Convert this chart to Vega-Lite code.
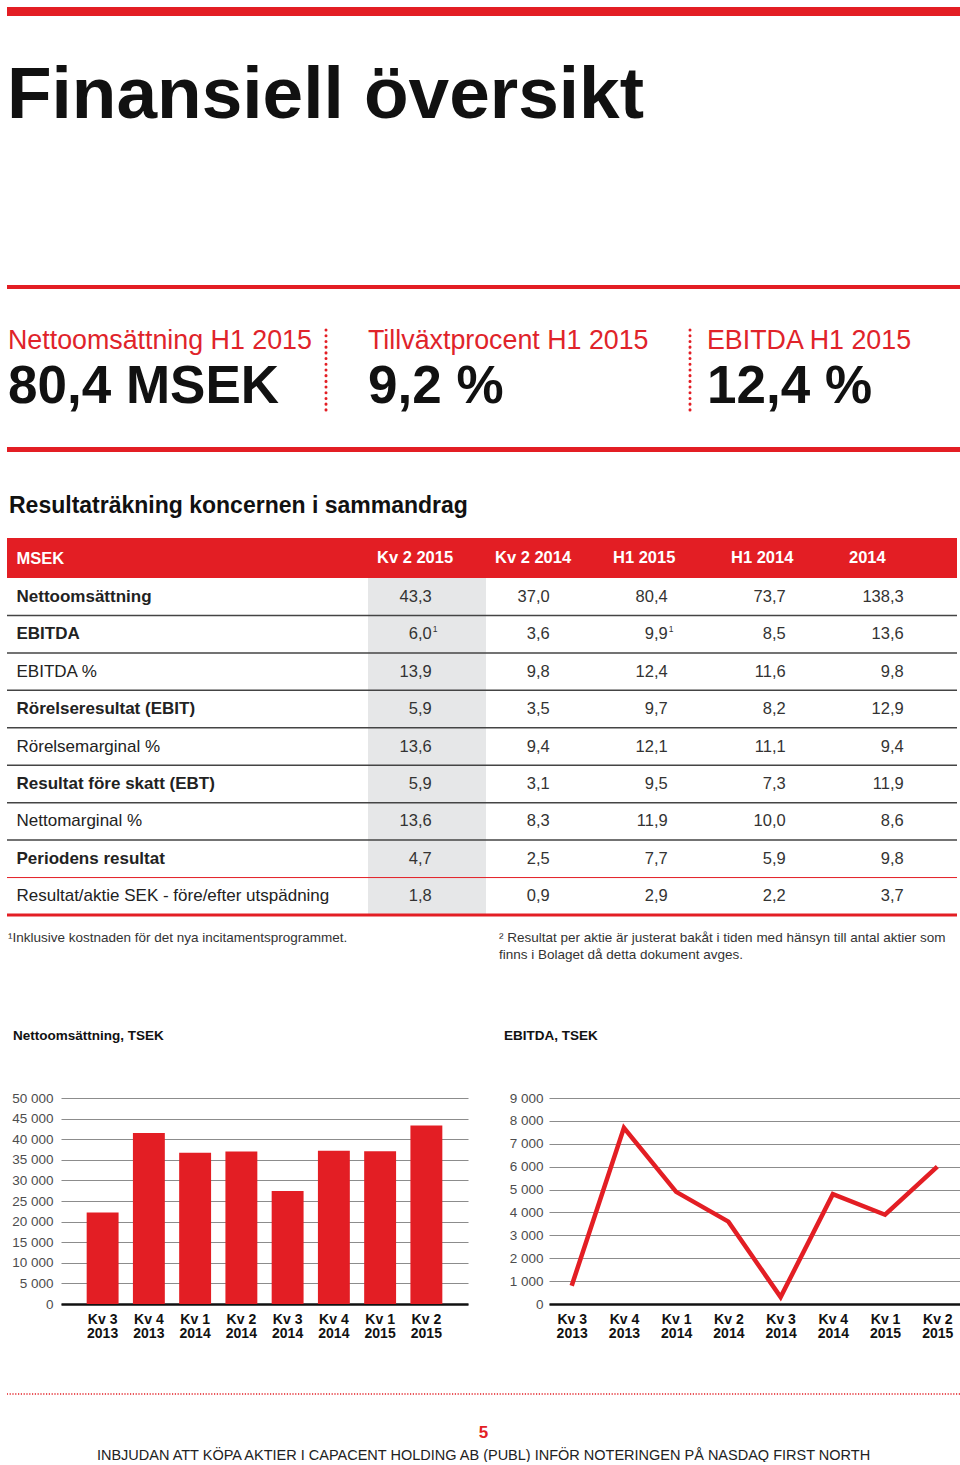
{
  "$schema": "https://vega.github.io/schema/vega-lite/v6.json",
  "background": "white",
  "padding": {"left": 5, "top": 7, "right": 0, "bottom": 0},
  "spacing": 0,
  "bounds": "flush",
  "config": {
    "font": "Liberation Sans",
    "view": {"stroke": null},
    "locale": {"number": {"decimal": ",", "thousands": " ", "grouping": [3], "currency": ["", " kr"]}},
    "title": {"font": "Liberation Sans", "subtitleFont": "Liberation Sans", "anchor": "start", "frame": "group"}
  },
  "datasets": {
    "periods": [
      {"period": "Kv 2 2015"}, {"period": "Kv 2 2014"}, {"period": "H1 2015"}, {"period": "H1 2014"}, {"period": "2014"}
    ],
    "table": [
      {"item": "Nettoomsättning", "period": "Kv 2 2015", "value": 43.3},
      {"item": "Nettoomsättning", "period": "Kv 2 2014", "value": 37.0},
      {"item": "Nettoomsättning", "period": "H1 2015", "value": 80.4},
      {"item": "Nettoomsättning", "period": "H1 2014", "value": 73.7},
      {"item": "Nettoomsättning", "period": "2014", "value": 138.3},
      {"item": "EBITDA", "period": "Kv 2 2015", "value": 6.0, "note": "1"},
      {"item": "EBITDA", "period": "Kv 2 2014", "value": 3.6},
      {"item": "EBITDA", "period": "H1 2015", "value": 9.9, "note": "1"},
      {"item": "EBITDA", "period": "H1 2014", "value": 8.5},
      {"item": "EBITDA", "period": "2014", "value": 13.6},
      {"item": "EBITDA %", "period": "Kv 2 2015", "value": 13.9},
      {"item": "EBITDA %", "period": "Kv 2 2014", "value": 9.8},
      {"item": "EBITDA %", "period": "H1 2015", "value": 12.4},
      {"item": "EBITDA %", "period": "H1 2014", "value": 11.6},
      {"item": "EBITDA %", "period": "2014", "value": 9.8},
      {"item": "Rörelseresultat (EBIT)", "period": "Kv 2 2015", "value": 5.9},
      {"item": "Rörelseresultat (EBIT)", "period": "Kv 2 2014", "value": 3.5},
      {"item": "Rörelseresultat (EBIT)", "period": "H1 2015", "value": 9.7},
      {"item": "Rörelseresultat (EBIT)", "period": "H1 2014", "value": 8.2},
      {"item": "Rörelseresultat (EBIT)", "period": "2014", "value": 12.9},
      {"item": "Rörelsemarginal %", "period": "Kv 2 2015", "value": 13.6},
      {"item": "Rörelsemarginal %", "period": "Kv 2 2014", "value": 9.4},
      {"item": "Rörelsemarginal %", "period": "H1 2015", "value": 12.1},
      {"item": "Rörelsemarginal %", "period": "H1 2014", "value": 11.1},
      {"item": "Rörelsemarginal %", "period": "2014", "value": 9.4},
      {"item": "Resultat före skatt (EBT)", "period": "Kv 2 2015", "value": 5.9},
      {"item": "Resultat före skatt (EBT)", "period": "Kv 2 2014", "value": 3.1},
      {"item": "Resultat före skatt (EBT)", "period": "H1 2015", "value": 9.5},
      {"item": "Resultat före skatt (EBT)", "period": "H1 2014", "value": 7.3},
      {"item": "Resultat före skatt (EBT)", "period": "2014", "value": 11.9},
      {"item": "Nettomarginal %", "period": "Kv 2 2015", "value": 13.6},
      {"item": "Nettomarginal %", "period": "Kv 2 2014", "value": 8.3},
      {"item": "Nettomarginal %", "period": "H1 2015", "value": 11.9},
      {"item": "Nettomarginal %", "period": "H1 2014", "value": 10.0},
      {"item": "Nettomarginal %", "period": "2014", "value": 8.6},
      {"item": "Periodens resultat", "period": "Kv 2 2015", "value": 4.7},
      {"item": "Periodens resultat", "period": "Kv 2 2014", "value": 2.5},
      {"item": "Periodens resultat", "period": "H1 2015", "value": 7.7},
      {"item": "Periodens resultat", "period": "H1 2014", "value": 5.9},
      {"item": "Periodens resultat", "period": "2014", "value": 9.8},
      {"item": "Resultat/aktie SEK - före/efter utspädning", "period": "Kv 2 2015", "value": 1.8},
      {"item": "Resultat/aktie SEK - före/efter utspädning", "period": "Kv 2 2014", "value": 0.9},
      {"item": "Resultat/aktie SEK - före/efter utspädning", "period": "H1 2015", "value": 2.9},
      {"item": "Resultat/aktie SEK - före/efter utspädning", "period": "H1 2014", "value": 2.2},
      {"item": "Resultat/aktie SEK - före/efter utspädning", "period": "2014", "value": 3.7}
    ],
    "quarters": [
      {"quarter": "Kv 3 2013", "nettoomsattning": 22200, "ebitda": 800},
      {"quarter": "Kv 4 2013", "nettoomsattning": 41500, "ebitda": 7700},
      {"quarter": "Kv 1 2014", "nettoomsattning": 36700, "ebitda": 4900},
      {"quarter": "Kv 2 2014", "nettoomsattning": 37000, "ebitda": 3600},
      {"quarter": "Kv 3 2014", "nettoomsattning": 27400, "ebitda": 300},
      {"quarter": "Kv 4 2014", "nettoomsattning": 37200, "ebitda": 4800},
      {"quarter": "Kv 1 2015", "nettoomsattning": 37100, "ebitda": 3900},
      {"quarter": "Kv 2 2015", "nettoomsattning": 43300, "ebitda": 6000}
    ]
  },
  "vconcat": [
    {"width": 953, "height": 9, "view": {"fill": "#e31e24"}, "data": {"values": []}, "mark": "text"},
    {"width": 953, "height": 269, "data": {"values": []}, "mark": "text"},
    {"width": 953, "height": 4, "view": {"fill": "#e31e24"}, "data": {"values": []}, "mark": "text",
     "title": {"text": "Finansiell översikt", "fontSize": 73, "fontWeight": "bold", "color": "#111111", "offset": 152, "dx": 0}},
    {"width": 953, "height": 41, "data": {"values": []}, "mark": "text"},
    {
      "spacing": 0,
      "bounds": "flush",
      "hconcat": [
        {"width": 317, "height": 80, "data": {"values": []}, "mark": "text",
         "title": {"text": "Nettoomsättning H1 2015", "subtitle": "80,4 MSEK", "fontSize": 26.8, "fontWeight": "normal", "color": "#e0232a",
                   "subtitleFontSize": 53, "subtitleFontWeight": "bold", "subtitleColor": "#111111", "subtitlePadding": 6.2, "offset": -84, "dx": 1}},
        {"width": 4, "height": 80, "data": {"values": [{}]},
         "mark": {"type": "rule", "color": "#e31e24", "strokeWidth": 3, "strokeDash": [0.1, 5.6], "strokeCap": "round"},
         "encoding": {"x": {"datum": 0.5, "type": "quantitative", "scale": {"domain": [0, 1]}, "axis": null}}},
        {"width": 360, "height": 80, "data": {"values": []}, "mark": "text",
         "title": {"text": "Tillväxtprocent H1 2015", "subtitle": "9,2 %", "fontSize": 26.8, "fontWeight": "normal", "color": "#e0232a",
                   "subtitleFontSize": 53, "subtitleFontWeight": "bold", "subtitleColor": "#111111", "subtitlePadding": 6.2, "offset": -84, "dx": 40}},
        {"width": 4, "height": 80, "data": {"values": [{}]},
         "mark": {"type": "rule", "color": "#e31e24", "strokeWidth": 3, "strokeDash": [0.1, 5.6], "strokeCap": "round"},
         "encoding": {"x": {"datum": 0.5, "type": "quantitative", "scale": {"domain": [0, 1]}, "axis": null}}},
        {"width": 268, "height": 80, "data": {"values": []}, "mark": "text",
         "title": {"text": "EBITDA H1 2015", "subtitle": "12,4 %", "fontSize": 26.8, "fontWeight": "normal", "color": "#e0232a",
                   "subtitleFontSize": 53, "subtitleFontWeight": "bold", "subtitleColor": "#111111", "subtitlePadding": 6.2, "offset": -84, "dx": 15}}
      ]
    },
    {"width": 953, "height": 117, "data": {"values": []}, "mark": "text"},
    {"width": 953, "height": 5, "view": {"fill": "#e31e24"}, "data": {"values": []}, "mark": "text"},
    {"width": 953, "height": 86, "data": {"values": []}, "mark": "text"},
    {
      "width": 950, "height": 40,
      "view": {"fill": "#e31e24"},
      "data": {"name": "periods"},
      "title": {"text": "Resultaträkning koncernen i sammandrag", "fontSize": 23, "fontWeight": "bold", "color": "#111111", "offset": 20, "dx": 2},
      "mark": {"type": "text", "align": "left", "baseline": "middle", "dx": 9, "fontSize": 16.5, "fontWeight": "bold", "color": "white"},
      "encoding": {
        "x": {"field": "period", "type": "nominal", "sort": null, "bandPosition": 0,
              "scale": {"type": "band", "domain": ["Kv 2 2015", "Kv 2 2014", "H1 2015", "H1 2014", "2014"], "range": [361, 951], "paddingInner": 0, "paddingOuter": 0}, "axis": null},
        "y": {"datum": "MSEK", "type": "nominal",
              "axis": {"title": null, "domain": false, "ticks": false, "tickSize": 0, "labelPadding": -9, "labelAlign": "left", "labelBaseline": "middle",
                       "labelFontSize": 16.5, "labelFontWeight": "bold", "labelColor": "white"}},
        "text": {"field": "period"}
      }
    },
    {
      "width": 950, "height": 337,
      "data": {"name": "table"},
      "encoding": {
        "y": {"field": "item", "type": "nominal",
              "scale": {"domain": ["Nettoomsättning", "EBITDA", "EBITDA %", "Rörelseresultat (EBIT)", "Rörelsemarginal %", "Resultat före skatt (EBT)", "Nettomarginal %", "Periodens resultat", "Resultat/aktie SEK - före/efter utspädning"], "paddingInner": 0, "paddingOuter": 0},
              "axis": {"title": null, "domain": false, "ticks": false, "tickSize": 0, "labelPadding": -9, "labelAlign": "left", "labelBaseline": "middle",
                       "labelFontSize": 17, "labelColor": "#222222", "labelLimit": 400,
                       "labelFontWeight": {"condition": {"test": "indexof(['Nettoomsättning','EBITDA','Rörelseresultat (EBIT)','Resultat före skatt (EBT)','Periodens resultat'], datum.value) >= 0", "value": "bold"}, "value": "normal"}}}
      },
      "layer": [
        {
          "transform": [{"filter": "datum.period === 'Kv 2 2015'"}],
          "mark": {"type": "rect", "color": "#e6e7e8"},
          "encoding": {
            "x": {"field": "period", "type": "nominal",
                  "scale": {"type": "band", "domain": ["Kv 2 2015", "Kv 2 2014", "H1 2015", "H1 2014", "2014"], "range": [361, 951], "paddingInner": 0, "paddingOuter": 0}, "axis": null}
          }
        },
        {
          "transform": [{"filter": "datum.period === 'Kv 2 2015'"}],
          "mark": {"type": "rule"},
          "encoding": {
            "y": {"field": "item", "type": "nominal", "bandPosition": 1,
                  "scale": {"domain": ["Nettoomsättning", "EBITDA", "EBITDA %", "Rörelseresultat (EBIT)", "Rörelsemarginal %", "Resultat före skatt (EBT)", "Nettomarginal %", "Periodens resultat", "Resultat/aktie SEK - före/efter utspädning"], "paddingInner": 0, "paddingOuter": 0},
                  "axis": {"title": null, "domain": false, "ticks": false, "tickSize": 0, "labelPadding": -9, "labelAlign": "left", "labelBaseline": "middle",
                           "labelFontSize": 17, "labelColor": "#222222", "labelLimit": 400,
                           "labelFontWeight": {"condition": {"test": "indexof(['Nettoomsättning','EBITDA','Rörelseresultat (EBIT)','Resultat före skatt (EBT)','Periodens resultat'], datum.value) >= 0", "value": "bold"}, "value": "normal"}}},
            "color": {"condition": {"test": "datum.item === 'Periodens resultat' || datum.item === 'Resultat/aktie SEK - före/efter utspädning'", "value": "#e31e24"}, "value": "#444444"},
            "strokeWidth": {"condition": [{"test": "datum.item === 'Resultat/aktie SEK - före/efter utspädning'", "value": 3}, {"test": "datum.item === 'Periodens resultat'", "value": 1}], "value": 1.5}
          }
        },
        {
          "mark": {"type": "text", "align": "right", "baseline": "middle", "fontSize": 16.5, "color": "#333333"},
          "encoding": {
            "x": {"field": "period", "type": "nominal", "bandPosition": 0.54,
                  "scale": {"type": "band", "domain": ["Kv 2 2015", "Kv 2 2014", "H1 2015", "H1 2014", "2014"], "range": [361, 951], "paddingInner": 0, "paddingOuter": 0}, "axis": null},
            "text": {"field": "value", "type": "quantitative", "format": ".1f"}
          }
        },
        {
          "transform": [{"filter": "datum.note != null"}],
          "mark": {"type": "text", "align": "left", "baseline": "middle", "fontSize": 8.5, "dx": 1, "dy": -5, "color": "#333333"},
          "encoding": {
            "x": {"field": "period", "type": "nominal", "bandPosition": 0.54,
                  "scale": {"type": "band", "domain": ["Kv 2 2015", "Kv 2 2014", "H1 2015", "H1 2014", "2014"], "range": [361, 951], "paddingInner": 0, "paddingOuter": 0}, "axis": null},
            "text": {"field": "note"}
          }
        }
      ]
    },
    {
      "spacing": 0,
      "bounds": "flush",
      "hconcat": [
        {"width": 492, "height": 1, "data": {"values": []}, "mark": "text",
         "title": {"text": "¹Inklusive kostnaden för det nya incitamentsprogrammet.", "orient": "bottom", "offset": 15, "dx": 1,
                   "fontSize": 13.5, "fontWeight": "normal", "color": "#333333"}},
        {"width": 461, "height": 1, "data": {"values": []}, "mark": "text",
         "title": {"text": ["² Resultat per aktie är justerat bakåt i tiden med hänsyn till antal aktier som", "finns i Bolaget då detta dokument avges."],
                   "orient": "bottom", "offset": 15, "dx": 0, "lineHeight": 17,
                   "fontSize": 13.5, "fontWeight": "normal", "color": "#333333"}}
      ]
    },
    {"width": 953, "height": 183, "data": {"values": []}, "mark": "text"},
    {
      "spacing": 0,
      "bounds": "flush",
      "hconcat": [
        {"width": 54, "height": 206, "data": {"values": []}, "mark": "text"},
        {
          "width": 407, "height": 206,
          "data": {"name": "quarters"},
          "title": {"text": "Nettoomsättning, TSEK", "fontSize": 13.5, "fontWeight": "bold", "color": "#111111", "offset": 48.5, "dx": -48},
          "mark": {"type": "bar", "color": "#e31e24"},
          "encoding": {
            "x": {"field": "quarter", "type": "nominal", "sort": null,
                  "scale": {"paddingInner": 0.31, "paddingOuter": 0.555},
                  "axis": {"title": null, "labelAngle": 0, "labelExpr": "[slice(datum.label, 0, 4), slice(datum.label, 5)]",
                           "labelFontWeight": "bold", "labelFontSize": 14, "labelColor": "#111111", "labelLineHeight": 14.5, "labelPadding": 8,
                           "ticks": false, "tickSize": 0, "domain": true, "domainColor": "#111111", "domainWidth": 2.5, "grid": false}},
            "y": {"field": "nettoomsattning", "type": "quantitative",
                  "scale": {"domain": [0, 50000], "nice": false},
                  "axis": {"title": null, "values": [0, 5000, 10000, 15000, 20000, 25000, 30000, 35000, 40000, 45000, 50000], "format": ",.0f",
                           "grid": true, "gridColor": "#8c8c8c", "gridWidth": 1.2, "domain": false, "ticks": false, "tickSize": 0,
                           "labelPadding": 8, "labelFontSize": 13.5, "labelColor": "#4d4d4d"}}
          }
        },
        {"width": 81, "height": 206, "data": {"values": []}, "mark": "text"},
        {
          "width": 411, "height": 206,
          "data": {"name": "quarters"},
          "title": {"text": "EBITDA, TSEK", "fontSize": 13.5, "fontWeight": "bold", "color": "#111111", "offset": 48.5, "dx": -45},
          "mark": {"type": "line", "color": "#e31e24", "strokeWidth": 4.5, "strokeJoin": "miter"},
          "encoding": {
            "x": {"field": "quarter", "type": "nominal", "sort": null,
                  "scale": {"type": "point", "padding": 0.4345},
                  "axis": {"title": null, "labelAngle": 0, "labelExpr": "[slice(datum.label, 0, 4), slice(datum.label, 5)]",
                           "labelFontWeight": "bold", "labelFontSize": 14, "labelColor": "#111111", "labelLineHeight": 14.5, "labelPadding": 8,
                           "ticks": false, "tickSize": 0, "domain": true, "domainColor": "#111111", "domainWidth": 2.5, "grid": false}},
            "y": {"field": "ebitda", "type": "quantitative",
                  "scale": {"domain": [0, 9000], "nice": false},
                  "axis": {"title": null, "values": [0, 1000, 2000, 3000, 4000, 5000, 6000, 7000, 8000, 9000], "format": ",.0f",
                           "grid": true, "gridColor": "#8c8c8c", "gridWidth": 1.2, "domain": false, "ticks": false, "tickSize": 0,
                           "labelPadding": 6, "labelFontSize": 13.5, "labelColor": "#4d4d4d"}}
          }
        }
      ]
    },
    {"width": 953, "height": 295, "data": {"values": []}, "mark": "text"},
    {
      "width": 953, "height": 2,
      "data": {"values": [{}]},
      "mark": {"type": "rule", "color": "#e31e24", "strokeWidth": 1.5, "strokeDash": [1.2, 1.6]},
      "encoding": {"y": {"datum": 0.5, "type": "quantitative", "scale": {"domain": [0, 1]}, "axis": null}},
      "title": {"text": "5", "subtitle": "INBJUDAN ATT KÖPA AKTIER I CAPACENT HOLDING AB (PUBL) INFÖR NOTERINGEN PÅ NASDAQ FIRST NORTH",
                "orient": "bottom", "anchor": "middle", "offset": 30, "fontSize": 17, "fontWeight": "bold", "color": "#e31e24",
                "subtitleFontSize": 14.5, "subtitleColor": "#222222", "subtitlePadding": 6.5}
    }
  ]
}
